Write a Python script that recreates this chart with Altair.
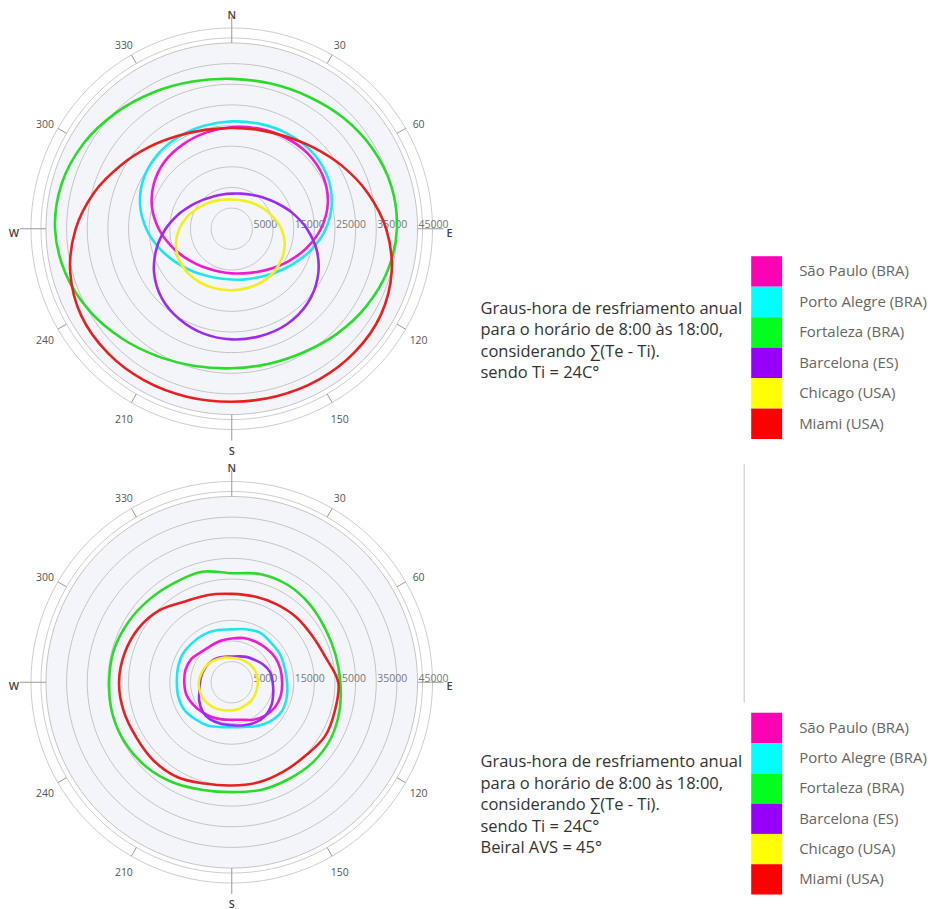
import altair as alt
import pandas as pd

# ---------------- data ----------------
cities = ["São Paulo (BRA)", "Porto Alegre (BRA)", "Fortaleza (BRA)",
          "Barcelona (ES)", "Chicago (USA)", "Miami (USA)"]
angles = list(range(0, 360, 15))  # azimuth, degrees (N = 0, clockwise)

# upper diagram: no overhang
top_sao_paulo = [24600, 25100, 25600, 25900, 25500, 24100, 21600, 18600, 15800, 13600, 12100, 11200,
                 10800, 10800, 11200, 12100, 13500, 15400, 17700, 20000, 21800, 23000, 23600, 24100]
top_porto_alegre = [26000, 26300, 26700, 26900, 26500, 25100, 22800, 19900, 17100, 15000, 13500, 12700,
                    12300, 12400, 13000, 14200, 15900, 18200, 20700, 23000, 24600, 25400, 25700, 25800]
top_fortaleza = [36300, 36400, 37000, 38100, 39200, 40000, 40000, 39100, 37600, 36000, 34600, 33900,
                 33800, 34400, 35700, 37600, 39800, 41700, 42800, 42600, 41400, 39700, 38100, 36900]
top_barcelona = [8500, 8800, 9500, 10700, 12500, 15100, 18200, 21400, 24000, 25800, 26700, 26900,
                 26800, 26300, 25300, 23900, 21700, 18900, 16000, 13400, 11300, 9900, 9000, 8600]
top_chicago = [7100, 7200, 7600, 8300, 9300, 10500, 12000, 13300, 14100, 14600, 14800, 14800,
               14900, 15000, 15100, 15100, 14800, 14000, 12700, 11200, 9700, 8600, 7800, 7300]
top_miami = [24400, 24800, 25900, 27900, 30700, 34000, 37400, 40100, 41700, 42200, 42200, 42000,
             41900, 42100, 42400, 42500, 42100, 40500, 37800, 34400, 30900, 28100, 26000, 24800]

# lower diagram: overhang AVS = 45°
bot_sao_paulo = [10600, 11100, 11400, 11700, 12100, 12200, 12200, 12300, 12100, 11400, 10500, 9400,
                 9100, 9300, 9700, 10200, 10800, 11400, 11500, 11600, 11300, 10400, 10200, 10400]
bot_porto_alegre = [12800, 13300, 13800, 13500, 13500, 13300, 13400, 13800, 14000, 13300, 12200, 11200,
                    10900, 11200, 12000, 12600, 13300, 13400, 13300, 13500, 13700, 13500, 13400, 13100]
bot_fortaleza = [26400, 27100, 27200, 26700, 26100, 26000, 26300, 27000, 27600, 27600, 27200, 27000,
                 26600, 27000, 28100, 29100, 29700, 29900, 29700, 29600, 29000, 28300, 27800, 27700]
bot_barcelona = [6200, 6500, 7100, 7700, 8700, 9600, 9900, 10400, 11100, 11500, 11300, 10800,
                 10400, 10400, 10400, 10000, 9100, 8100, 7700, 7500, 7300, 7100, 6800, 6400]
bot_chicago = [5900, 5900, 6000, 6200, 6300, 6300, 6300, 6300, 6400, 6500, 6500, 6700,
               6800, 7000, 7400, 7700, 8000, 8000, 8000, 7700, 7400, 7000, 6500, 6200]
bot_miami = [21400, 21500, 21800, 22200, 22500, 23500, 25800, 25900, 26100, 25200, 25000, 25100,
             25000, 25400, 26500, 26800, 26700, 27100, 27300, 26900, 26100, 24700, 22600, 21900]

top_series = [top_sao_paulo, top_porto_alegre, top_fortaleza, top_barcelona, top_chicago, top_miami]
bot_series = [bot_sao_paulo, bot_porto_alegre, bot_fortaleza, bot_barcelona, bot_chicago, bot_miami]

grid_values = [5000, 10000, 15000, 20000, 25000, 30000, 35000, 40000, 45000]
grid_labels = [5000, 15000, 25000, 35000, 45000]
compass_angles = [0, 30, 60, 90, 120, 150, 180, 210, 240, 270, 300, 330]
compass_text = ["N", "30", "60", "E", "120", "150", "S", "210", "240", "W", "300", "330"]

desc_top = ["Graus-hora de resfriamento anual",
            "para o horário de 8:00 às 18:00,",
            "considerando ∑(Te - Ti).",
            "sendo Ti = 24C°"]
desc_bottom = desc_top + ["Beiral AVS = 45°"]

line_colors = ["#f01ad2", "#1ee6f0", "#2adc2a", "#9b2cf0", "#f2ef1e", "#e82020"]
legend_colors = ["#ff00b4", "#00ffff", "#00ff1e", "#9600ff", "#ffff00", "#ff0000"]

FONT = "Open Sans"

# ---------------- geometry (pixels) ----------------
PXU = 186 / 45000          # pixels per unit of degree-hours
PW, PH = 448, 454          # polar panel size
CX, CY = 224, 220.5        # pole position inside panel
SW = 472                   # side panel width


def u(px):
    return px / PXU


xsc = alt.Scale(domain=[-u(CX), u(PW - CX)], nice=False, zero=False)
ysc = alt.Scale(domain=[-u(PH - CY), u(CY)], nice=False, zero=False)
XE = alt.X("x:Q", scale=xsc, axis=None)
YE = alt.Y("y:Q", scale=ysc, axis=None)
SIN = "sin(datum.angle * PI / 180)"
COS = "cos(datum.angle * PI / 180)"


def polar(series):
    rows = []
    for city, vals in zip(cities, series):
        for a, v in zip(angles, vals):
            rows.append({"city": city, "angle": a, "v": v})
    curves = pd.DataFrame(rows)

    ring_angles = list(range(0, 361, 3))
    grid = pd.DataFrame([{"v": v, "angle": a} for v in grid_values for a in ring_angles])
    outer = pd.DataFrame([{"v": v, "angle": a} for v in [u(191), u(201)] for a in ring_angles])
    ticks = pd.DataFrame([{"angle": a,
                           "r1": u(186) if a % 90 == 0 else u(191),
                           "r2": u(212) if a % 90 == 0 else u(201)} for a in compass_angles])
    labels = pd.DataFrame([{"angle": a, "label": t, "r": u(218) if a % 90 == 0 else u(216),
                            "card": a % 90 == 0} for a, t in zip(compass_angles, compass_text)])
    rlabels = pd.DataFrame({"v": grid_labels})

    disk = alt.Chart(pd.DataFrame({"x": [0], "y": [0]})).mark_point(
        shape="circle", filled=True, size=(2 * 186) ** 2, color="#f4f5fa", opacity=1, strokeWidth=0
    ).encode(x=XE, y=YE)

    grid_l = alt.Chart(grid).transform_calculate(
        x=f"datum.v * {SIN}", y=f"datum.v * {COS}"
    ).mark_line(color="#c4c4c4", strokeWidth=1).encode(
        x=XE, y=YE, detail="v:N", order="angle:Q")

    outer_l = alt.Chart(outer).transform_calculate(
        x=f"datum.v * {SIN}", y=f"datum.v * {COS}"
    ).mark_line(color="#cdcdcd", strokeWidth=1).encode(
        x=XE, y=YE, detail="v:N", order="angle:Q")

    tick_l = alt.Chart(ticks).transform_calculate(
        x=f"datum.r1 * {SIN}", y=f"datum.r1 * {COS}",
        x2=f"datum.r2 * {SIN}", y2=f"datum.r2 * {COS}"
    ).mark_rule(color="#9a9a9a", strokeWidth=1).encode(
        x=XE, y=YE, x2="x2:Q", y2="y2:Q")

    num_l = alt.Chart(labels).transform_filter("!datum.card").transform_calculate(
        x=f"datum.r * {SIN}", y=f"datum.r * {COS}"
    ).mark_text(font=FONT, fontSize=10.5, color="#555555", baseline="middle", dy=4).encode(
        x=XE, y=YE, text="label:N")

    card_l = alt.Chart(labels).transform_filter("datum.card").transform_calculate(
        x=f"datum.r * {SIN}", y=f"datum.r * {COS}"
    ).mark_text(font=FONT, fontSize=11, fontWeight=600, color="#444444", baseline="middle", dy=5).encode(
        x=XE, y=YE, text="label:N")

    rad_l = alt.Chart(rlabels).transform_calculate(
        x=f"datum.v + {u(1)}", y="0"
    ).mark_text(font=FONT, fontSize=10.5, color="#777777", align="left", baseline="middle", dy=-3.5).encode(
        x=XE, y=YE, text=alt.Text("v:Q", format="d"))

    curve_l = alt.Chart(curves).transform_calculate(
        x=f"datum.v * {SIN}", y=f"datum.v * {COS}"
    ).mark_line(strokeWidth=2.6, interpolate="cardinal-closed").encode(
        x=XE, y=YE,
        stroke=alt.Stroke("city:N", scale=alt.Scale(domain=cities, range=line_colors), legend=None),
        order=alt.Order("angle:Q"))

    return alt.layer(disk, grid_l, outer_l, tick_l, rad_l, num_l, card_l, curve_l).properties(
        width=PW, height=PH)


def side(lines, yrange, with_rule):
    leg = pd.DataFrame({"city": cities})
    yenc = alt.Y("city:N", sort=cities, axis=None,
                 scale=alt.Scale(range=list(yrange), paddingInner=0, paddingOuter=0))
    rects = alt.Chart(leg).mark_rect().encode(
        y=yenc, x=alt.value(296), x2=alt.value(327),
        fill=alt.Fill("city:N", scale=alt.Scale(domain=cities, range=legend_colors), legend=None))
    names = alt.Chart(leg).mark_text(font=FONT, fontSize=15, color="#666666",
                                     align="left", baseline="middle").encode(
        y=yenc, x=alt.value(344), text="city:N")
    one = pd.DataFrame({"k": [0]})
    desc = alt.Chart(one).mark_text(text=lines, font=FONT, fontSize=16.5, color="#333333",
                                    align="left", baseline="alphabetic", lineHeight=21.5).encode(
        x=alt.value(25), y=alt.value(305.5))
    layers = [rects, names, desc]
    if with_rule:
        layers.append(alt.Chart(one).mark_rule(color="#c3c3c3", strokeWidth=1).encode(
            x=alt.value(289), y=alt.value(2), y2=alt.value(241)))
    return alt.layer(*layers).properties(width=SW, height=PH)


chart = alt.concat(
    polar(top_series), side(desc_top, (248, 431), False),
    polar(bot_series), side(desc_bottom, (251, 433), True),
    columns=2, spacing=0, bounds="flush", padding=0,
).resolve_scale(x="independent", y="independent").configure_view(stroke=None)

chart.save("out.html", embed_options={"renderer": "svg", "actions": False})
